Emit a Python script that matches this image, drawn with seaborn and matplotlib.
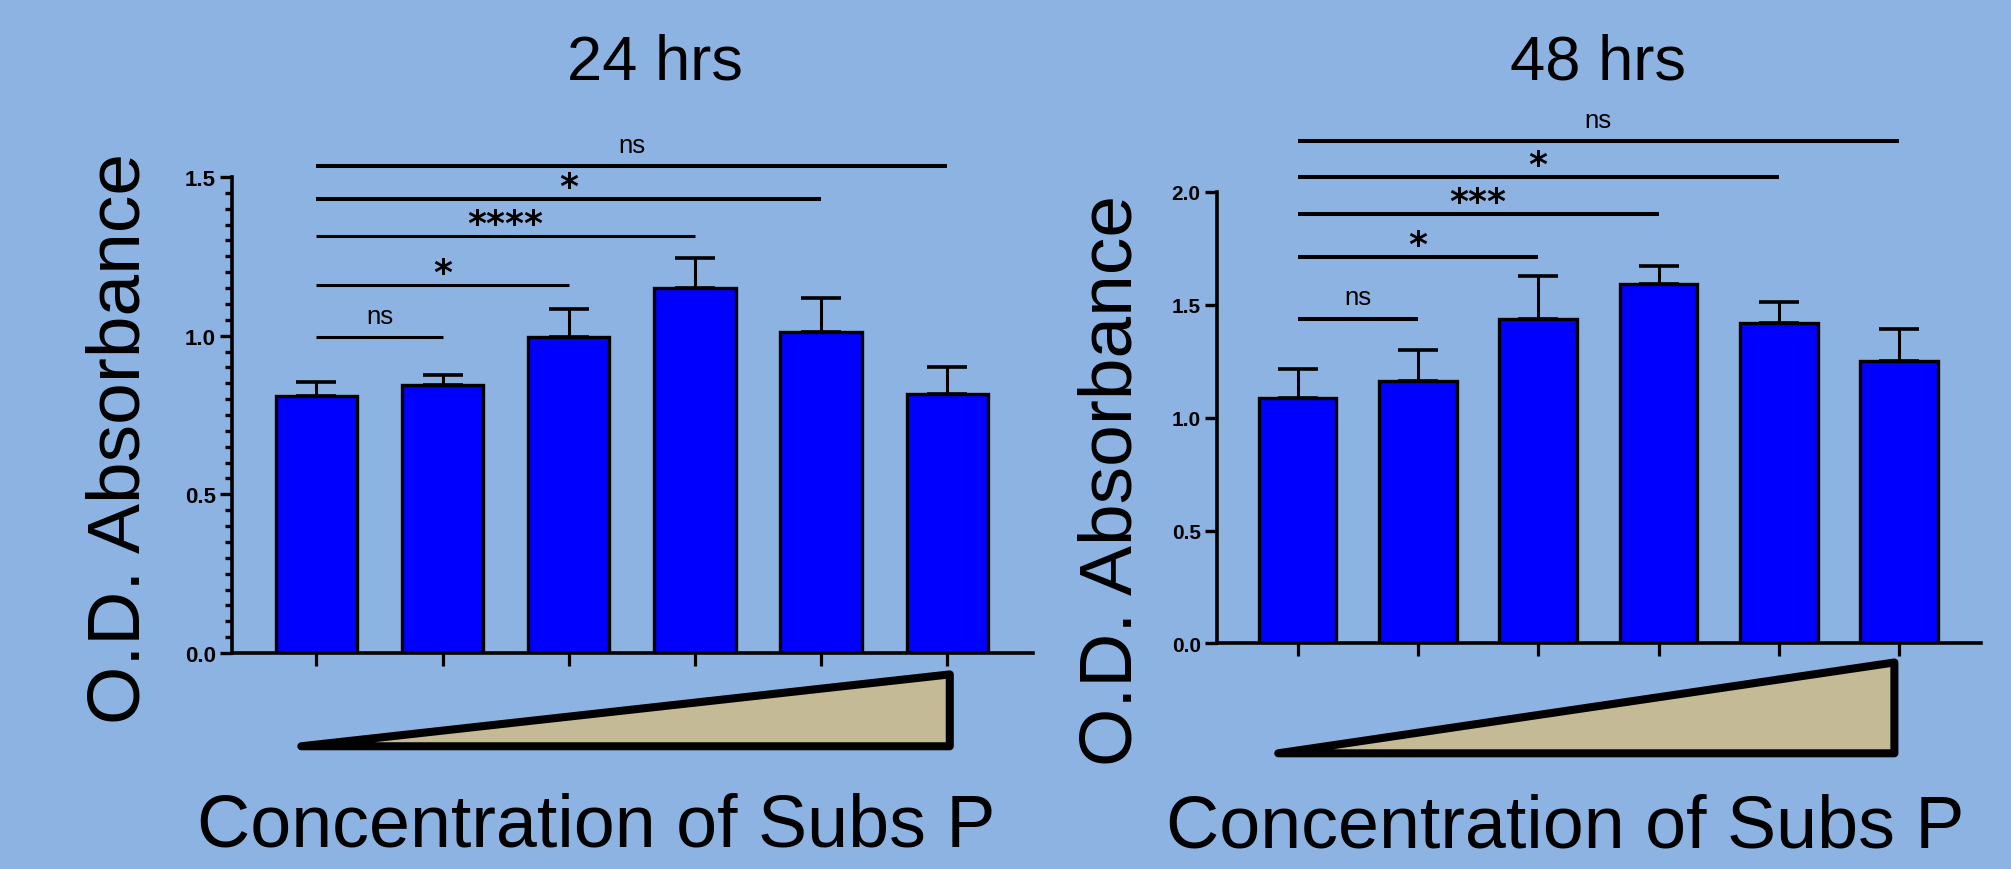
import matplotlib
matplotlib.use('Agg')
import matplotlib.pyplot as plt
import matplotlib.transforms as mtransforms
from matplotlib.patches import Polygon
from matplotlib.ticker import MultipleLocator
import numpy as np
import pandas as pd
import seaborn as sns

# six increasing concentrations of Subs P (no labels on the axis)
doses = ['c0', 'c1', 'c2', 'c3', 'c4', 'c5']

od_24h = [0.81, 0.845, 0.995, 1.15, 1.01, 0.815]
sem_24h = [0.045, 0.03, 0.09, 0.095, 0.11, 0.085]
od_48h = [1.085, 1.16, 1.435, 1.59, 1.42, 1.25]
sem_48h = [0.13, 0.14, 0.19, 0.08, 0.09, 0.14]

# comparisons against the first group: c0 vs c1 ... c0 vs c5
sig_24h = ['ns', '*', '****', '*', 'ns']
sig_24h_y = [0.995, 1.16, 1.315, 1.43, 1.534]
sig_48h = ['ns', '*', '***', '*', 'ns']
sig_48h_y = [1.437, 1.712, 1.902, 2.064, 2.222]

bg = '#8DB3E2'
sns.set_style('ticks', {'axes.facecolor': bg, 'figure.facecolor': bg})
plt.rcParams['font.family'] = ['Liberation Sans', 'DejaVu Sans']
plt.rcParams['text.color'] = 'black'
plt.rcParams['xtick.color'] = 'black'
plt.rcParams['ytick.color'] = 'black'
plt.rcParams['axes.edgecolor'] = 'black'

fig = plt.figure(figsize=(20.11, 8.7), dpi=100, facecolor=bg)
ax1 = fig.add_axes([0.1152, 0.2483, 0.3985, 0.5471])
ax2 = fig.add_axes([0.6050, 0.2592, 0.3801, 0.5194])


def draw_panel(ax, vals, errs, sig, sig_y, ymax, tick_size, sig_lw, tri):
    df = pd.DataFrame({'dose': doses, 'od': vals})
    sns.barplot(data=df, x='dose', y='od', ax=ax, color='#0000FF', saturation=1,
                edgecolor='black', linewidth=2.4, width=0.645, errorbar=None, zorder=2)
    x = np.arange(len(vals))
    ax.errorbar(x, vals, yerr=[np.zeros(len(vals)), errs], fmt='none', ecolor='black',
                elinewidth=2.2, capsize=14.5, capthick=2.6, zorder=1)

    ax.set_xlim(-0.672, 5.68)
    ax.set_ylim(0, ymax)
    ax.yaxis.set_major_locator(MultipleLocator(0.5))
    ax.yaxis.set_major_formatter(matplotlib.ticker.FormatStrFormatter('%.1f'))
    ax.set_xticks(x)
    ax.set_xticklabels([])
    ax.set_xlabel('')
    ax.set_ylabel('')
    sns.despine(ax=ax)
    for s in ['left', 'bottom']:
        ax.spines[s].set_linewidth(2.6)
        ax.spines[s].set_color('black')
    ax.tick_params(axis='y', which='major', length=8.5, width=2.4, pad=3,
                   labelsize=tick_size, colors='black')
    ax.tick_params(axis='y', which='minor', length=4.8, width=2.4, colors='black')
    ax.tick_params(axis='x', length=9, width=2.3, colors='black')
    for lab in ax.get_yticklabels():
        lab.set_fontweight('bold')

    # significance bars
    for j, (lab, yy, lw) in enumerate(zip(sig, sig_y, sig_lw), start=1):
        ax.plot([0, j], [yy, yy], color='black', lw=lw, clip_on=False,
                solid_capstyle='butt')
        if lab == 'ns':
            ax.annotate(lab, xy=(j / 2, yy), xytext=(0, 10.5), textcoords='offset points',
                        ha='center', va='baseline', fontsize=18.5, annotation_clip=False)
        else:
            ax.annotate(lab, xy=(j / 2, yy), xytext=(0, 1.5), textcoords='offset points',
                        ha='center', va='baseline', fontsize=26, fontweight='bold',
                        family=['DejaVu Sans'], annotation_clip=False)

    # wedge showing increasing concentration
    trans = mtransforms.blended_transform_factory(ax.transData, ax.transAxes)
    (xl, xr, yb, yt) = tri
    wedge = Polygon([(xl, yb), (xr, yt), (xr, yb)], closed=True, transform=trans,
                    facecolor='#C4BB96', edgecolor='black', lw=5.8,
                    joinstyle='round', clip_on=False)
    ax.add_patch(wedge)


draw_panel(ax1, od_24h, sem_24h, sig_24h, sig_24h_y, 1.5, 16,
           [2.2, 2.2, 2.2, 2.9, 2.9], (-0.12, 5.02, -0.196, -0.045))
ax1.yaxis.set_minor_locator(MultipleLocator(0.05))
draw_panel(ax2, od_48h, sem_48h, sig_48h, sig_48h_y, 2.0, 15,
           [2.9] * 5, (-0.16, 4.96, -0.243, -0.042))

fig.text(655 / 2011, 1 - 80 / 870, '24 hrs', ha='center', va='baseline', fontsize=45.5)
fig.text(1598 / 2011, 1 - 80 / 870, '48 hrs', ha='center', va='baseline', fontsize=45.5)
fig.text(120.5 / 2011, 1 - 438 / 870, 'O.D. Absorbance', rotation=90,
         ha='center', va='center', fontsize=54)
fig.text(1112 / 2011, 1 - 480 / 870, 'O.D. Absorbance', rotation=90,
         ha='center', va='center', fontsize=54)
fig.text(596.5 / 2011, 1 - 847 / 870, 'Concentration of Subs P', ha='center',
         va='baseline', fontsize=53)
fig.text(1565 / 2011, 1 - 848 / 870, 'Concentration of Subs P', ha='center',
         va='baseline', fontsize=53)

fig.savefig('out.png', dpi=100, facecolor=bg)
